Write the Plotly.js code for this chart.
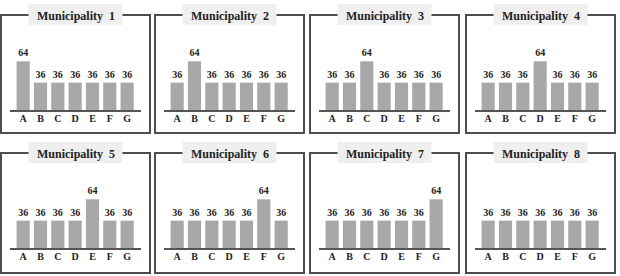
<!DOCTYPE html>
<html>
<head>
<meta charset="utf-8">
<script src="https://cdn.plot.ly/plotly-3.0.1.min.js"></script>
<style>html,body{margin:0;padding:0;background:#fff;}#chart{width:620px;height:276px;}</style>
</head>
<body>
<div id="chart"></div>
<script>
// ---- data ----
const categories = ['A', 'B', 'C', 'D', 'E', 'F', 'G'];
const municipality1 = [64, 36, 36, 36, 36, 36, 36];
const municipality2 = [36, 64, 36, 36, 36, 36, 36];
const municipality3 = [36, 36, 64, 36, 36, 36, 36];
const municipality4 = [36, 36, 36, 64, 36, 36, 36];
const municipality5 = [36, 36, 36, 36, 64, 36, 36];
const municipality6 = [36, 36, 36, 36, 36, 64, 36];
const municipality7 = [36, 36, 36, 36, 36, 36, 64];
const municipality8 = [36, 36, 36, 36, 36, 36, 36];
const panelTitles = ['Municipality\u00a0 1', 'Municipality\u00a0 2', 'Municipality\u00a0 3', 'Municipality\u00a0 4',
                     'Municipality\u00a0 5', 'Municipality\u00a0 6', 'Municipality\u00a0 7', 'Municipality\u00a0 8'];
const series = [municipality1, municipality2, municipality3, municipality4,
                municipality5, municipality6, municipality7, municipality8];

// ---- layout geometry (pixels) ----
const W = 620, H = 276;
const colLeft = [1, 155, 310, 466];
const boxW = 149;
const rowTop = [15, 153];
const rowBottom = [133, 273];
const px = x => x / W;
const py = y => 1 - y / H;

const FONT = 'Liberation Serif, Times New Roman, serif';
const traces = [];
const shapes = [];
const annotations = [];
const layout = {
  width: W, height: H, autosize: false,
  margin: {l: 0, r: 0, t: 0, b: 0},
  paper_bgcolor: '#ffffff', plot_bgcolor: 'rgba(0,0,0,0)',
  showlegend: false, bargap: 0.24,
  font: {family: FONT, color: '#222'}
};

for (let i = 0; i < 8; i++) {
  const r = Math.floor(i / 4), c = i % 4;
  const left = colLeft[c], right = left + boxW;
  const top = rowTop[r], bottom = rowBottom[r];
  const base = top + 95;
  const n = i + 1;
  const xa = 'xaxis' + (n === 1 ? '' : n), ya = 'yaxis' + (n === 1 ? '' : n);
  const xr = 'x' + (n === 1 ? '' : n), yr = 'y' + (n === 1 ? '' : n);

  traces.push({
    type: 'bar', x: categories, y: series[i], xaxis: xr, yaxis: yr,
    marker: {color: '#a8a8a8', line: {width: 0}},
    text: series[i].map(String), textposition: 'outside', cliponaxis: false,
    textfont: {family: FONT, size: 10, weight: 'bold', color: '#222'},
    hoverinfo: 'skip'
  });

  layout[xa] = {
    domain: [px(left + 9), px(right - 9)], anchor: yr,
    range: [-0.76, 6.8], type: 'category',
    showline: true, linecolor: '#555555', linewidth: 2,
    showgrid: false, zeroline: false, ticks: '', fixedrange: true,
    ticklabelstandoff: -2,
    tickfont: {family: FONT, size: 10, weight: 'bold', color: '#222'}
  };
  layout[ya] = {
    domain: [py(base), py(base - 70)], anchor: xr,
    range: [0, 92], visible: false, fixedrange: true
  };

  // panel border
  shapes.push({type: 'rect', xref: 'paper', yref: 'paper',
    x0: px(left), x1: px(right), y0: py(bottom), y1: py(top),
    line: {color: '#4d4d4d', width: 2}, fillcolor: 'rgba(0,0,0,0)', layer: 'above'});
  // title background
  const cx = (left + right) / 2;
  shapes.push({type: 'rect', xref: 'paper', yref: 'paper',
    x0: px(cx - 47), x1: px(cx + 47), y0: py(top + 10), y1: py(top - 11),
    line: {width: 0}, fillcolor: '#efefef', layer: 'above'});
  annotations.push({xref: 'paper', yref: 'paper', x: px(cx), y: py(top + 1),
    text: panelTitles[i], showarrow: false, xanchor: 'center', yanchor: 'middle',
    font: {family: FONT, size: 12, weight: 'bold', color: '#222'}});
}
layout.shapes = shapes;
layout.annotations = annotations;

Plotly.newPlot('chart', traces, layout, {staticPlot: true, displayModeBar: false});
</script>
</body>
</html>
